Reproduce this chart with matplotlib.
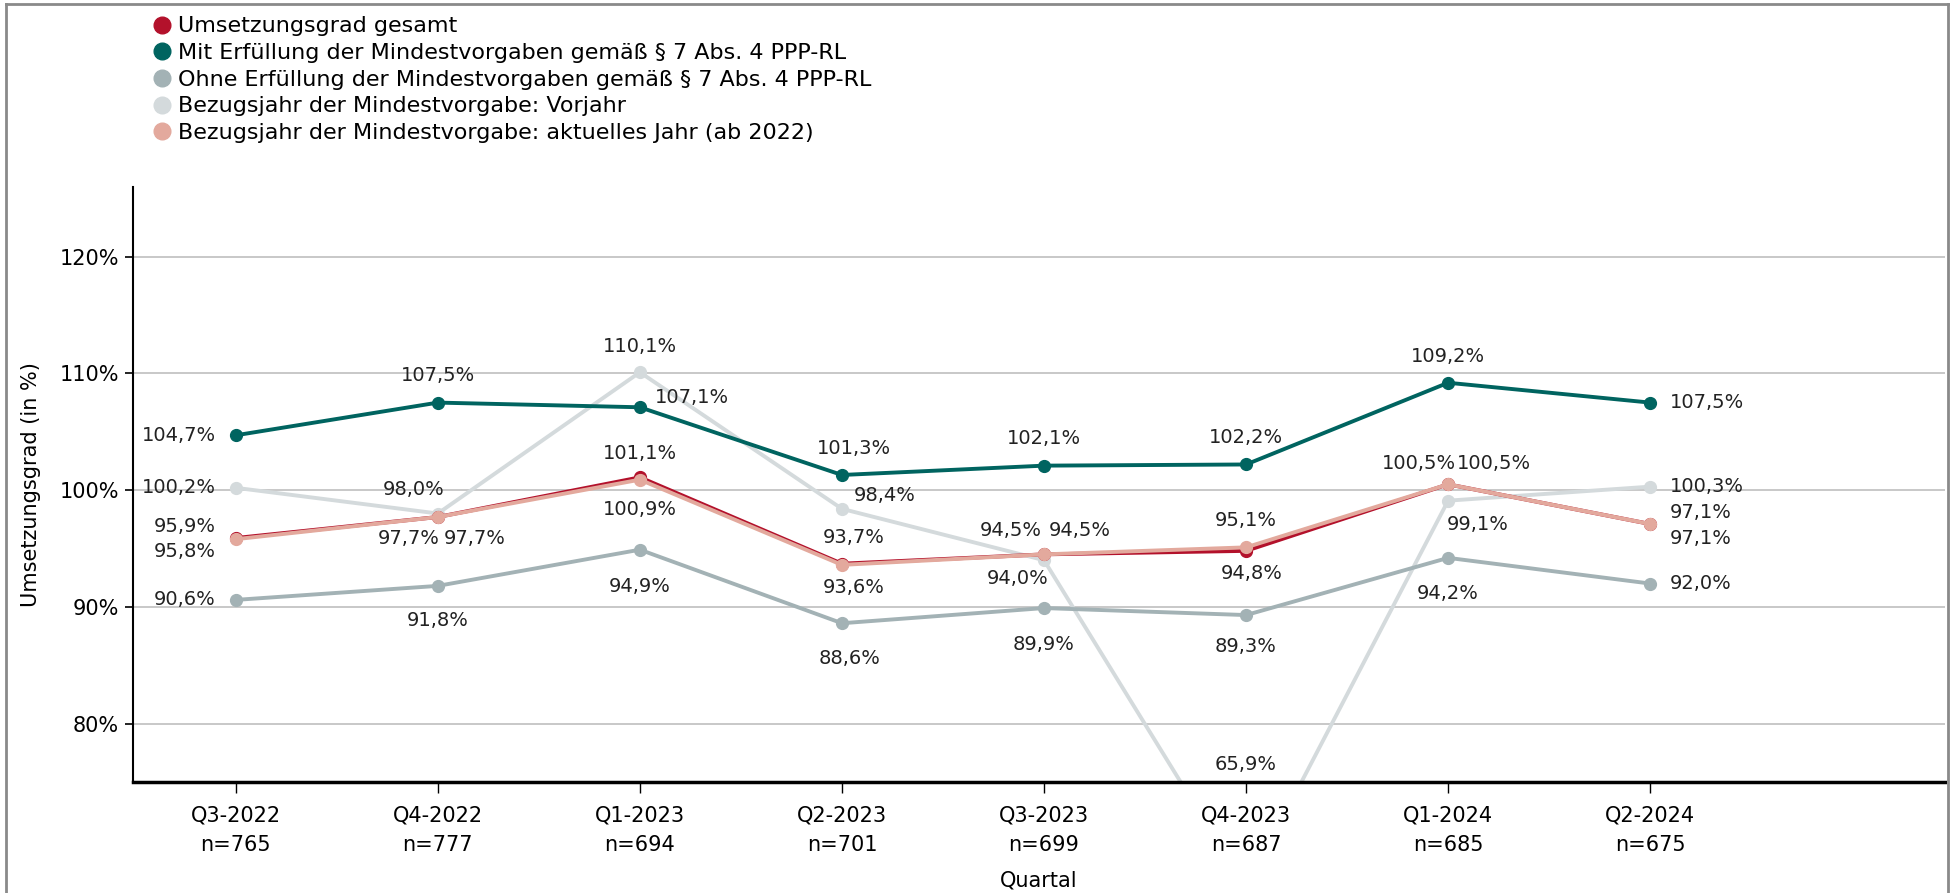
import matplotlib
matplotlib.use('Agg')
import matplotlib.pyplot as plt
from matplotlib.lines import Line2D

plt.rcParams['font.family'] = ['DejaVu Sans']

# data
quarters = ['Q3-2022', 'Q4-2022', 'Q1-2023', 'Q2-2023', 'Q3-2023', 'Q4-2023', 'Q1-2024', 'Q2-2024']
n_counts = [765, 777, 694, 701, 699, 687, 685, 675]

gesamt = [95.9, 97.7, 101.1, 93.7, 94.5, 94.8, 100.5, 97.1]
mit = [104.7, 107.5, 107.1, 101.3, 102.1, 102.2, 109.2, 107.5]
ohne = [90.6, 91.8, 94.9, 88.6, 89.9, 89.3, 94.2, 92.0]
vorjahr = [100.2, 98.0, 110.1, 98.4, 94.0, 65.9, 99.1, 100.3]
aktuell = [95.8, 97.7, 100.9, 93.6, 94.5, 95.1, 100.5, 97.1]

names = ['Umsetzungsgrad gesamt',
         'Mit Erfüllung der Mindestvorgaben gemäß § 7 Abs. 4 PPP-RL',
         'Ohne Erfüllung der Mindestvorgaben gemäß § 7 Abs. 4 PPP-RL',
         'Bezugsjahr der Mindestvorgabe: Vorjahr',
         'Bezugsjahr der Mindestvorgabe: aktuelles Jahr (ab 2022)']
colors = ['#b3112b', '#006460', '#a3b2b5', '#d4dadc', '#e3a99d']

# label placement (pixel offsets from point, alignment)
mit_off = [(-20, 0, 'right'), (0, 27, 'center'), (15, 10, 'left'), (12, 26, 'center'),
           (0, 27, 'center'), (0, 27, 'center'), (0, 26, 'center'), (20, 0, 'left')]
vorjahr_off = [(-20, 0, 'right'), (-24, 24, 'center'), (0, 26, 'center'), (12, 13, 'left'),
               (-26, -18, 'center'), (0, 18, 'center'), (30, -24, 'center'), (20, 0, 'left')]
gesamt_off = [(-20, 12, 'right'), (-29, -21, 'center'), (0, 24, 'center'), (12, 26, 'center'),
              (-33, 24, 'center'), (6, -23, 'center'), (-29, 21, 'center'), (20, 12, 'left')]
aktuell_off = [(-20, -12, 'right'), (37, -21, 'center'), (0, -30, 'center'), (12, -23, 'center'),
               (36, 24, 'center'), (0, 27, 'center'), (46, 21, 'center'), (20, -14, 'left')]
ohne_off = [(-20, 0, 'right'), (0, -35, 'center'), (0, -37, 'center'), (8, -35, 'center'),
            (0, -36, 'center'), (0, -31, 'center'), (0, -36, 'center'), (20, 0, 'left')]

YMIN, YMAX = 75, 126

fig = plt.figure(figsize=(19.52, 8.93), dpi=100)
ax = fig.add_axes([0.068, 0.1243, 0.9285, 0.6667])

x = list(range(len(quarters)))
series = [(vorjahr, colors[3], vorjahr_off, 1),
          (ohne, colors[2], ohne_off, 2),
          (mit, colors[1], mit_off, 3),
          (gesamt, colors[0], gesamt_off, 4),
          (aktuell, colors[4], aktuell_off, 5)]

for vals, col, offs, z in series:
    ax.plot(x, vals, color=col, lw=2.8, marker='o', markersize=8.5, zorder=z)
    for xi, v, (dx, dy, ha) in zip(x, vals, offs):
        yy = v if v >= YMIN else YMIN
        ax.annotate(f'{v:.1f}'.replace('.', ',') + '%', xy=(xi, yy), xytext=(dx, dy),
                    textcoords='offset pixels', ha=ha, va='center', fontsize=14,
                    color='#222222', annotation_clip=False, zorder=6)

ax.set_xlim(-0.51, 8.46)
ax.set_ylim(YMIN, YMAX)
ax.set_yticks([80, 90, 100, 110, 120])
ax.set_yticklabels(['80%', '90%', '100%', '110%', '120%'], fontsize=15)
ax.set_xticks(x)
ax.set_xticklabels([f'{q}\nn={n}' for q, n in zip(quarters, n_counts)], fontsize=15,
                   linespacing=1.6)
ax.tick_params(axis='x', length=8, width=1, pad=9)
ax.tick_params(axis='y', length=6, width=1.2, pad=4)
ax.yaxis.grid(True, color='#c8c8c8', lw=1.4)
ax.set_axisbelow(True)
for s in ['top', 'right']:
    ax.spines[s].set_visible(False)
ax.spines['left'].set_linewidth(1.5)
ax.spines['bottom'].set_linewidth(2.5)
ax.set_ylabel('Umsetzungsgrad (in %)', fontsize=15, labelpad=13)
ax.set_xlabel('Quartal', fontsize=15, labelpad=11)

handles = [Line2D([], [], ls='none', marker='o', markersize=12, color=c) for c in colors]
fig.legend(handles, names, loc='upper left', bbox_to_anchor=(0.073, 0.994), frameon=False,
           fontsize=16, handlelength=0.8, handletextpad=0.3, labelspacing=0.3, borderpad=0)

# outer frame
for xs, ys in [([0.003, 0.003], [0, 0.996]), ([0.003, 0.998], [0.996, 0.996]),
               ([0.998, 0.998], [0, 0.996])]:
    fig.add_artist(Line2D(xs, ys, transform=fig.transFigure, color='#8a8a8a', lw=2))

fig.savefig('out.png', dpi=100)
